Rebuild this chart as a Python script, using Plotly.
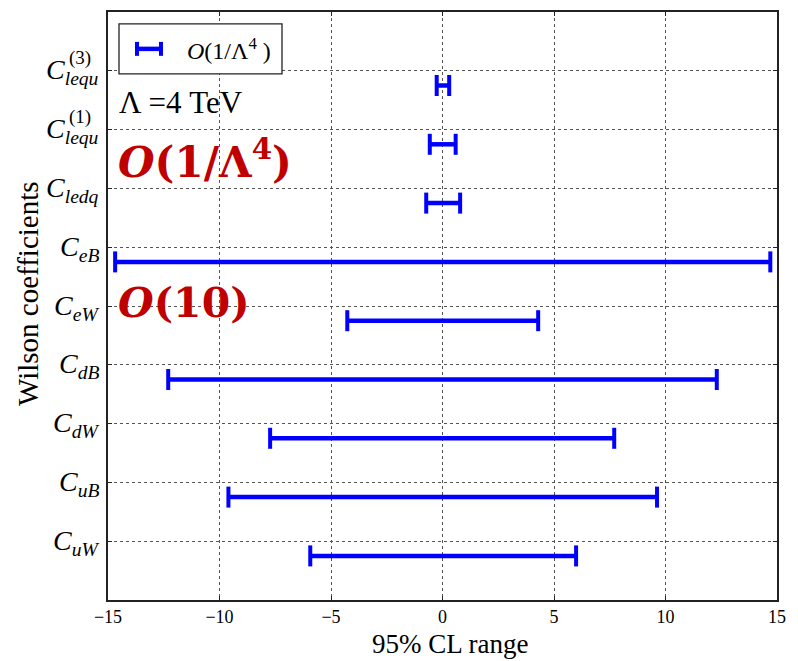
import plotly.graph_objects as go

# ---- data ----
coef_sub = ["uW", "uB", "dW", "dB", "eW", "eB", "ledq", "lequ", "lequ"]
coef_sup = ["", "", "", "", "", "", "", "(1)", "(3)"]
positions = [1, 2, 3, 4, 5, 6, 7, 8, 9]
lower = [-5.93, -9.60, -7.73, -12.30, -4.27, -14.68, -0.73, -0.57, -0.26]
upper = [5.99, 9.62, 7.70, 12.30, 4.29, 14.70, 0.79, 0.59, 0.30]
x_ticks = [-15, -10, -5, 0, 5, 10, 15]
bar_offset = -0.25

SERIF = "Liberation Serif"
WIDE = "DejaVu Serif"
BLUE = "#0000ff"
RED = "#c00000"

W, H = 798, 661
L, R, T, B = 108, 21, 10, 61
pw, ph = W - L - R, H - T - B


def px2x(px):
    return (px - L) / pw


def py2y(py):
    return (H - B - py) / ph


xs, ys = [], []
for lo, hi, p in zip(lower, upper, positions):
    xs += [lo, hi, None]
    ys += [p + bar_offset, p + bar_offset, None]

fig = go.Figure()
fig.add_trace(go.Scatter(
    x=xs, y=ys, mode="lines+markers",
    line=dict(color=BLUE, width=4.5),
    marker=dict(symbol="line-ns-open", size=15, color=BLUE,
                line=dict(color=BLUE, width=4)),
    showlegend=False, hoverinfo="skip",
))

ann = []
# y tick labels (stacked sub/sup)
for p, sub, sup in zip(positions, coef_sub, coef_sup):
    ann.append(dict(
        x=px2x(101), y=p, xref="paper", yref="y", xanchor="right", yanchor="middle",
        text=f"<i>C</i><sub><i>{sub}</i></sub>", showarrow=False,
        font=dict(family=SERIF, size=28, color="black"), yshift=-1,
    ))
    if sup:
        ann.append(dict(
            x=px2x(67), y=p, xref="paper", yref="y", xanchor="left", yanchor="middle",
            text=sup, showarrow=False,
            font=dict(family=SERIF, size=19, color="black"), yshift=13,
        ))

# axis titles
ann.append(dict(x=px2x(28), y=py2y(293), xref="paper", yref="paper",
                xanchor="center", yanchor="middle",
                text="Wilson coefficients", textangle=-90, showarrow=False,
                font=dict(family=SERIF, size=29, color="black")))
ann.append(dict(x=px2x(450), y=py2y(644), xref="paper", yref="paper",
                xanchor="center", yanchor="middle",
                text="95% CL range", showarrow=False,
                font=dict(family=SERIF, size=27, color="black")))

# in-plot texts
ann.append(dict(x=px2x(117), y=py2y(101), xref="paper", yref="paper",
                xanchor="left", yanchor="middle", text="Λ =4 TeV", showarrow=False,
                font=dict(family=SERIF, size=31, color="black")))
ann.append(dict(x=px2x(116), y=py2y(157), xref="paper", yref="paper",
                xanchor="left", yanchor="middle",
                text="<b><i>O</i>(1/Λ<sup>4</sup>)</b>", showarrow=False,
                font=dict(family=WIDE, size=42, color=RED)))
ann.append(dict(x=px2x(116), y=py2y(302), xref="paper", yref="paper",
                xanchor="left", yanchor="middle",
                text="<b><i>O</i>(10)</b>", showarrow=False,
                font=dict(family=WIDE, size=41, color=RED)))
# legend text
ann.append(dict(x=px2x(185), y=py2y(47), xref="paper", yref="paper",
                xanchor="left", yanchor="middle",
                text="<i>O</i>(1/Λ<sup>4</sup> )", showarrow=False,
                font=dict(family=SERIF, size=24, color="black")))

shapes = [
    # legend box
    dict(type="rect", xref="paper", yref="paper",
         x0=px2x(119), x1=px2x(282), y0=py2y(72), y1=py2y(22),
         line=dict(color="#222", width=1.3), fillcolor="white", layer="above"),
    # legend errorbar symbol
    dict(type="line", xref="paper", yref="paper",
         x0=px2x(137), x1=px2x(161), y0=py2y(47), y1=py2y(47),
         line=dict(color=BLUE, width=4.5)),
    dict(type="line", xref="paper", yref="paper",
         x0=px2x(137), x1=px2x(137), y0=py2y(40), y1=py2y(54),
         line=dict(color=BLUE, width=4)),
    dict(type="line", xref="paper", yref="paper",
         x0=px2x(161), x1=px2x(161), y0=py2y(40), y1=py2y(54),
         line=dict(color=BLUE, width=4)),
]

fig.update_layout(
    width=W, height=H,
    margin=dict(l=L, r=R, t=T, b=B),
    paper_bgcolor="white", plot_bgcolor="white",
    annotations=ann, shapes=shapes,
    showlegend=False,
    font=dict(family=SERIF, color="black"),
    xaxis=dict(
        range=[-15, 15], tickvals=x_ticks, ticks="inside", ticklen=4,
        tickcolor="#222", showline=True, linecolor="#222", linewidth=1.5,
        mirror="ticks", showgrid=True, gridcolor="#555", griddash="dot",
        gridwidth=1, zeroline=False,
        tickfont=dict(family=SERIF, size=18, color="black"),
    ),
    yaxis=dict(
        range=[0, 10], tickvals=positions, ticks="inside", ticklen=4,
        tickcolor="#222", showline=True, linecolor="#222", linewidth=1.5,
        mirror="ticks", showgrid=True, gridcolor="#555", griddash="dot",
        gridwidth=1, zeroline=False, showticklabels=False,
    ),
)

fig.write_html("out.html")
